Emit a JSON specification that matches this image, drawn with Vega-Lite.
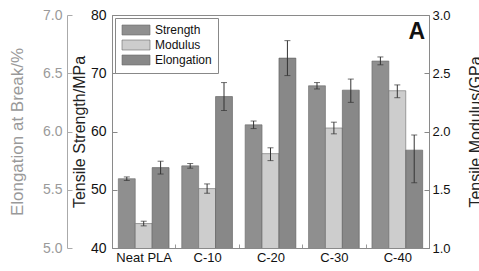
{
  "$schema": "https://vega.github.io/schema/vega-lite/v6.json",
  "width": 317,
  "height": 233,
  "autosize": {"type": "none"},
  "padding": {"left": 112, "top": 15, "right": 50, "bottom": 23},
  "background": "white",
  "config": {
    "font": "Liberation Sans",
    "view": {"stroke": "#8a8a8a", "strokeWidth": 1},
    "axis": {"grid": false, "titleFontWeight": "normal", "labelFont": "Liberation Sans", "titleFont": "Liberation Sans"},
    "legend": {
      "orient": "none", "legendX": 3, "legendY": 3, "direction": "vertical",
      "fillColor": "white", "strokeColor": "#888", "padding": 6,
      "symbolType": "M-1,-1H4.6V1H-1Z", "symbolSize": 100,
      "symbolStrokeColor": "#6a6a6a", "symbolStrokeWidth": 0.6,
      "labelFontSize": 12, "labelColor": "#111", "labelOffset": 22, "rowPadding": 1
    }
  },
  "title": {"text": "A", "anchor": "end", "frame": "group", "orient": "top", "offset": -24, "dy": 30, "baseline": "alphabetic", "dx": -4, "fontSize": 23, "fontWeight": "bold", "color": "#111", "font": "Liberation Sans"},
  "data": {"values": [
    {"cat": "Neat PLA", "series": "Strength", "value": 51.9, "lo": 51.6, "hi": 52.2},
    {"cat": "Neat PLA", "series": "Modulus", "value": 1.21, "lo": 1.19, "hi": 1.23},
    {"cat": "Neat PLA", "series": "Elongation", "value": 5.69, "lo": 5.635, "hi": 5.745},
    {"cat": "C-10", "series": "Strength", "value": 54.1, "lo": 53.7, "hi": 54.5},
    {"cat": "C-10", "series": "Modulus", "value": 1.51, "lo": 1.47, "hi": 1.55},
    {"cat": "C-10", "series": "Elongation", "value": 6.3, "lo": 6.18, "hi": 6.42},
    {"cat": "C-20", "series": "Strength", "value": 61.15, "lo": 60.5, "hi": 61.8},
    {"cat": "C-20", "series": "Modulus", "value": 1.81, "lo": 1.75, "hi": 1.86},
    {"cat": "C-20", "series": "Elongation", "value": 6.63, "lo": 6.48, "hi": 6.78},
    {"cat": "C-30", "series": "Strength", "value": 67.85, "lo": 67.3, "hi": 68.4},
    {"cat": "C-30", "series": "Modulus", "value": 2.03, "lo": 1.98, "hi": 2.08},
    {"cat": "C-30", "series": "Elongation", "value": 6.355, "lo": 6.25, "hi": 6.45},
    {"cat": "C-40", "series": "Strength", "value": 72.1, "lo": 71.45, "hi": 72.8},
    {"cat": "C-40", "series": "Modulus", "value": 2.35, "lo": 2.29, "hi": 2.4},
    {"cat": "C-40", "series": "Elongation", "value": 5.84, "lo": 5.56, "hi": 5.97}
  ]},
  "encoding": {
    "x": {
      "field": "cat", "type": "nominal",
      "sort": ["Neat PLA", "C-10", "C-20", "C-30", "C-40"],
      "scale": {"paddingInner": 0.2, "paddingOuter": 0.1},
      "axis": {"title": null, "labelAngle": 0, "labelFontSize": 13, "labelColor": "#111", "labelPadding": 7,
               "tickSize": -4, "tickColor": "#999", "tickOffset": -31.7, "labelOffset": 31.7, "domainColor": "#8a8a8a"}
    },
    "xOffset": {
      "field": "series", "type": "nominal",
      "sort": ["Strength", "Modulus", "Elongation"],
      "scale": {"domain": ["Strength", "Modulus", "Elongation"], "paddingInner": 0, "paddingOuter": 0}
    }
  },
  "layer": [
    {
      "transform": [{"filter": "datum.series == 'Strength'"}],
      "layer": [
        {
          "mark": {"type": "bar", "stroke": "#6a6a6a", "strokeWidth": 0.6, "clip": true},
          "encoding": {
            "y": {"field": "value", "type": "quantitative", "title": "Tensile Strength/MPa",
                  "scale": {"domain": [40, 80], "zero": false, "nice": false},
                  "axis": {"orient": "left", "values": [40,45,50,55,60,65,70,75,80], "format": "d",
                           "labelExpr": "datum.value % 10 == 0 ? datum.label : ''",
                           "tickSize": {"condition": {"test": "datum.value % 10 == 0", "value": -5}, "value": -3},
                           "tickColor": "#888", "domainColor": "#8a8a8a", "labelColor": "#111", "labelFontSize": 14,
                           "labelPadding": 11, "titleFontSize": 16, "titleColor": "#222", "titlePadding": 3}},
            "fill": {"field": "series", "type": "nominal", "title": null,
                     "scale": {"domain": ["Strength", "Modulus", "Elongation"], "range": ["#8f8f8f", "#cdcdcd", "#888888"]}}
          }
        },
        {"mark": {"type": "rule", "color": "#333", "strokeWidth": 1},
         "encoding": {"y": {"field": "lo", "type": "quantitative", "title": "Tensile Strength/MPa"}, "y2": {"field": "hi"}}},
        {"mark": {"type": "tick", "color": "#333", "thickness": 1, "size": 6},
         "encoding": {"y": {"field": "lo", "type": "quantitative", "title": "Tensile Strength/MPa"}}},
        {"mark": {"type": "tick", "color": "#333", "thickness": 1, "size": 6},
         "encoding": {"y": {"field": "hi", "type": "quantitative", "title": "Tensile Strength/MPa"}}}
      ]
    },
    {
      "transform": [{"filter": "datum.series == 'Modulus'"}],
      "layer": [
        {
          "mark": {"type": "bar", "stroke": "#6a6a6a", "strokeWidth": 0.6, "clip": true},
          "encoding": {
            "y": {"field": "value", "type": "quantitative", "title": "Tensile Modulus/GPa",
                  "scale": {"domain": [1, 3], "zero": false, "nice": false},
                  "axis": {"orient": "right", "values": [1,1.25,1.5,1.75,2,2.25,2.5,2.75,3], "format": ".1f",
                           "labelExpr": "(datum.value * 2) % 1 == 0 ? datum.label : ''",
                           "tickSize": {"condition": {"test": "(datum.value * 2) % 1 == 0", "value": -5}, "value": -3},
                           "tickColor": "#888", "domainColor": "#8a8a8a", "labelColor": "#111", "labelFontSize": 13,
                           "labelPadding": 8, "titleFontSize": 16, "titleColor": "#222", "titleAngle": 270,
                           "titleBaseline": "top", "titlePadding": 17}},
            "fill": {"field": "series", "type": "nominal", "title": null}
          }
        },
        {"mark": {"type": "rule", "color": "#333", "strokeWidth": 1},
         "encoding": {"y": {"field": "lo", "type": "quantitative", "title": "Tensile Modulus/GPa"}, "y2": {"field": "hi"}}},
        {"mark": {"type": "tick", "color": "#333", "thickness": 1, "size": 6},
         "encoding": {"y": {"field": "lo", "type": "quantitative", "title": "Tensile Modulus/GPa"}}},
        {"mark": {"type": "tick", "color": "#333", "thickness": 1, "size": 6},
         "encoding": {"y": {"field": "hi", "type": "quantitative", "title": "Tensile Modulus/GPa"}}}
      ]
    },
    {
      "transform": [{"filter": "datum.series == 'Elongation'"}],
      "layer": [
        {
          "mark": {"type": "bar", "stroke": "#5a5a5a", "strokeWidth": 0.6, "clip": true},
          "encoding": {
            "y": {"field": "value", "type": "quantitative", "title": "Elongation at Break/%",
                  "scale": {"domain": [5, 7], "zero": false, "nice": false},
                  "axis": {"orient": "left", "offset": 45, "values": [5,5.25,5.5,5.75,6,6.25,6.5,6.75,7], "format": ".1f",
                           "labelExpr": "(datum.value * 2) % 1 == 0 ? datum.label : ''",
                           "tickSize": {"condition": {"test": "(datum.value * 2) % 1 == 0", "value": -5}, "value": -3},
                           "tickColor": "#aaa", "domainColor": "#aaa", "labelColor": "#9a9a9a", "labelFontSize": 14,
                           "labelPadding": 10, "titleFontSize": 17, "titleColor": "#999", "titlePadding": 16}},
            "fill": {"field": "series", "type": "nominal", "title": null}
          }
        },
        {"mark": {"type": "rule", "color": "#333", "strokeWidth": 1},
         "encoding": {"y": {"field": "lo", "type": "quantitative", "title": "Elongation at Break/%"}, "y2": {"field": "hi"}}},
        {"mark": {"type": "tick", "color": "#333", "thickness": 1, "size": 6},
         "encoding": {"y": {"field": "lo", "type": "quantitative", "title": "Elongation at Break/%"}}},
        {"mark": {"type": "tick", "color": "#333", "thickness": 1, "size": 6},
         "encoding": {"y": {"field": "hi", "type": "quantitative", "title": "Elongation at Break/%"}}}
      ]
    }
  ],
  "resolve": {"scale": {"y": "independent"}, "axis": {"y": "independent"}}
}
